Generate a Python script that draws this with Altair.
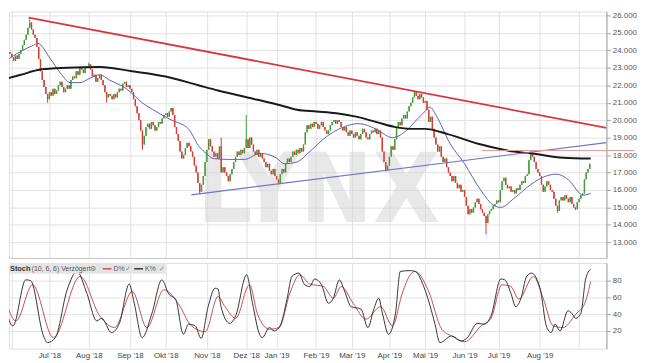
import altair as alt
import pandas as pd

# ---------------- data (prices in thousands, x = trading-day index, 0 = 2 Jul 2018)
first_idx = -22
first_open = 23.9
close_jun18 = [23.8, 23.6, 23.4, 23.7, 23.5, 23.8, 24.0, 24.3, 24.6, 24.9, 25.3, 25.6,
               25.2, 24.9, 24.7, 24.2, 23.5, 22.8, 22.3, 21.9, 21.5, 21.2]
close_jul18 = [21.6, 21.4, 21.8, 21.5, 21.7, 22.0, 22.2, 21.9, 21.6, 21.8, 22.0, 21.8,
               22.3, 22.5, 22.4, 22.8, 22.6, 23.0, 22.9, 22.7, 23.0, 23.1]
close_aug18 = [23.2, 22.9, 22.5, 22.6, 22.2, 22.4, 22.6, 22.3, 22.0, 21.6, 21.3, 21.5,
               21.4, 21.2, 21.5, 21.3, 21.6, 21.8, 21.7, 22.1, 22.2, 21.9, 22.0]
close_sep18 = [21.8, 21.6, 21.2, 20.8, 20.4, 20.0, 19.4, 18.6, 19.1, 19.6, 19.8, 19.5,
               19.9, 19.7, 19.4, 19.6, 19.9, 19.8, 20.1, 20.3]
close_okt18 = [20.4, 20.2, 20.5, 20.7, 20.3, 19.6, 19.2, 18.8, 18.2, 17.8, 18.0, 18.4,
               18.7, 18.5, 18.2, 17.9, 17.4, 17.0, 16.4, 15.9, 16.3, 16.8, 17.6]
close_nov18 = [18.3, 18.9, 18.5, 18.2, 17.9, 18.1, 17.8, 18.5, 17.0, 17.3, 17.0, 16.8,
               16.5, 16.9, 17.2, 17.6, 17.9, 18.2, 18.0, 18.3, 18.1, 18.4]
close_dez18 = [18.9, 18.4, 19.0, 18.6, 18.2, 18.0, 18.3, 17.9, 18.1, 17.8, 17.6, 17.3,
               17.5, 17.1, 16.9, 17.2, 16.8]
close_jan19 = [16.6, 16.4, 16.9, 17.2, 17.0, 17.5, 17.8, 17.6, 17.9, 18.2, 18.0, 18.3,
               18.1, 18.4, 18.2, 18.6, 19.3, 19.7, 19.5, 19.8, 19.6, 19.9]
close_feb19 = [19.8, 19.5, 19.7, 19.9, 19.6, 19.4, 19.2, 19.4, 19.7, 19.9, 20.0, 19.8,
               20.0, 19.9, 19.6, 19.4, 19.6, 19.3, 19.1, 19.4]
close_mar19 = [19.2, 19.0, 19.3, 19.1, 18.9, 19.2, 19.5, 19.3, 19.0, 18.9, 19.2, 19.4,
               19.3, 19.5, 19.2, 19.4, 19.0, 18.2, 17.6, 17.1, 17.4]
close_apr19 = [17.9, 18.5, 18.3, 18.9, 19.6, 19.9, 19.7, 20.1, 20.3, 20.1, 20.5, 20.8,
               21.0, 21.3, 21.6, 21.4, 21.2, 21.5, 21.3, 21.0]
close_mai19 = [21.1, 20.6, 19.9, 20.2, 19.5, 19.0, 18.6, 18.2, 18.5, 17.9, 17.6, 17.8,
               17.3, 17.0, 16.8, 16.5, 16.8, 16.4, 16.1, 16.3, 15.9, 16.0]
close_jun19 = [15.6, 15.1, 14.6, 14.9, 14.7, 15.0, 15.3, 15.5, 15.2, 14.9, 14.7, 14.5,
               14.1, 14.6, 14.8, 14.9, 15.1, 15.2, 15.4]
close_jul19 = [15.3, 16.0, 16.5, 16.7, 16.3, 16.1, 16.2, 15.9, 16.0, 15.8, 16.1, 16.0,
               16.3, 16.5, 16.4, 16.8, 16.9, 17.7, 18.1, 17.9, 17.6, 17.2, 17.0]
close_aug19 = [16.8, 16.3, 15.9, 16.2, 16.5, 16.3, 16.0, 15.9, 15.5, 15.1, 14.8, 15.4,
               15.6, 15.4, 15.7, 15.5, 15.3, 15.6, 15.2, 15.0, 14.9, 15.3]
close_sep19 = [15.5, 15.7, 15.8, 16.6, 17.0, 17.2, 17.5]

wick_high_idx = [-11, 22, 96, 110, 204, 269]
wick_high_val = [25.85, 23.3, 19.0, 20.3, 21.65, 18.25]
wick_low_idx = [-1, 32, 52, 84, 128, 188, 244, 284, 294]
wick_low_val = [21.0, 21.0, 18.3, 15.75, 16.3, 17.05, 13.45, 14.7, 14.85]

# moving averages (blue ~ short, black ~ 200 days)
ma_blue_idx = [-27, -17.6, -8.8, -6.6, 0.6, 6.1, 11.6, 17.1, 22.6, 28.1, 33.6, 43, 51.8,
               59.5, 68.3, 77.7, 83.2, 88.7, 91.5, 99.7, 109.1, 117.9, 127.3, 131.1, 138.3,
               145.5, 154.8, 164.2, 173, 182.4, 191.7, 200.6, 206, 209.9, 212.7, 215.4,
               219, 222.6, 232, 241.3, 248.5, 252.3, 259.5, 268.9, 277.7, 283.2, 290.9,
               296.4, 298.1, 302.5]
ma_blue_val = [23.2, 23.85, 24.3, 24.4, 23.5, 22.7, 22.15, 22.15, 22.4, 22.6, 22.3, 21.8,
               21.0, 20.5, 20.0, 19.5, 18.55, 18.0, 17.8, 17.75, 17.75, 18.1, 17.8, 17.5,
               17.6, 18.2, 19.05, 19.6, 19.8, 19.5, 19.0, 19.5, 20.1, 20.5, 20.75, 20.4,
               19.7, 18.9, 17.5, 15.95, 15.1, 15.0, 15.5, 16.3, 16.8, 16.9, 16.5, 15.8,
               15.7, 15.8]
ma_black_idx = [-27, -16, -5, 9.9, 28.1, 46.3, 65, 83.2, 94.2, 110.7, 127.3, 138.3,
                149.3, 160.3, 171.3, 182.4, 193.4, 201.7, 209.9, 222.6, 241.3, 259.5,
                268.9, 287.1, 302.5]
ma_black_val = [22.3, 22.6, 22.9, 23.0, 23.05, 22.8, 22.5, 22.0, 21.7, 21.3, 20.9, 20.6,
                20.5, 20.4, 20.2, 19.9, 19.6, 19.5, 19.5, 19.2, 18.6, 18.2, 18.1, 17.85,
                17.8]

# trend lines
res_idx = [-11.6, 311.3]
res_val = [25.87, 19.56]
sup_idx = [79.3, 311.3]
sup_val = [15.72, 18.71]
hline_idx = [241.9, 327.0]
hline_val = [18.26, 18.26]

# stochastic (10, 6, 6)
k_idx = [-27, -20.4, -13.2, -10.5, -3.3, -1.1, 3.3, 9.9, 15.4, 20.9, 26.4, 29.2, 34.7,
         39.1, 44.6, 47.4, 51.8, 57.3, 62.8, 66.7, 70.5, 74.9, 77.7, 81.5, 84.8, 88.7,
         92.6, 94.2, 95.9, 100.8, 104.1, 110.2, 113.5, 117.4, 119, 122.9, 125.6, 128.9,
         132.8, 135.5, 139.4, 142.7, 145.5, 148.2, 152.1, 155.9, 158.7, 162, 164.7,
         168.6, 174.1, 178, 181.3, 184, 186.2, 189.5, 193.4, 196.1, 201.7, 204.4, 209.9,
         215.4, 218.2, 224.8, 230.3, 233.6, 239.1, 243, 246.8, 252.3, 254.5, 257.9,
         260.6, 263.4, 266.7, 269.4, 274.4, 277.7, 280.4, 282.6, 285.4, 289.8, 291.5,
         294.2, 297, 299.7, 302.5]
k_val = [75, 26, 81, 80, 14, 6, 12, 69, 91, 65, 32, 35, 18, 29, 76, 53, 12, 41, 81, 64,
         58, 16, 28, 26, 11, 49, 71, 70, 49, 29, 38, 87, 53, 16, 12, 24, 20, 26, 58, 85,
         89, 75, 73, 82, 75, 53, 59, 81, 69, 49, 46, 24, 46, 59, 40, 16, 41, 91, 92, 91,
         69, 29, 6, 14, 8, 12, 29, 28, 38, 82, 81, 65, 49, 58, 85, 89, 69, 26, 18, 28,
         20, 44, 42, 35, 41, 82, 94]
d_idx = [-27, -18.7, -9.4, 2.2, 17.1, 28.1, 36.4, 46.3, 54.5, 63.9, 72.2, 79.3, 87.1,
         94.2, 98.1, 104.1, 111.8, 116.3, 122.9, 128.4, 134.4, 139.9, 145.5, 153.2,
         158.7, 163.1, 169.7, 176.9, 185.1, 191.7, 197.2, 201.7, 204.4, 211.6, 219.3,
         224.8, 232, 241.3, 246.8, 252.9, 257.9, 262.3, 270.5, 276.1, 281.5, 287.1,
         294.2, 299.2, 302.5]
d_val = [78, 32, 75, 12, 85, 38, 24, 67, 24, 69, 52, 26, 19, 61, 49, 35, 75, 40, 22, 24,
         65, 87, 76, 73, 59, 73, 53, 34, 49, 26, 65, 87, 91, 69, 22, 14, 7, 26, 35, 75,
         73, 58, 85, 58, 26, 24, 40, 53, 79]

month_idx = [-21, 0, 22, 45, 65, 88, 110, 127, 149, 169, 190, 210, 232, 251, 274, 296]
month_lbl = ["", "Jul '18", "Aug '18", "Sep '18", "Okt '18", "Nov '18", "Dez '18",
             "Jan '19", "Feb '19", "Mar '19", "Apr '19", "Mai '19", "Jun '19",
             "Jul '19", "Aug '19", ""]
price_ticks = list(range(13, 27))
stoch_ticks = [20, 40, 60, 80]

# ---------------- tables
closes = (close_jun18 + close_jul18 + close_aug18 + close_sep18 + close_okt18 + close_nov18
          + close_dez18 + close_jan19 + close_feb19 + close_mar19 + close_apr19
          + close_mai19 + close_jun19 + close_jul19 + close_aug19 + close_sep19)
idx = list(range(first_idx, first_idx + len(closes)))
opens = [first_open] + closes[:-1]
hi_map = dict(zip(wick_high_idx, wick_high_val))
lo_map = dict(zip(wick_low_idx, wick_low_val))
rows = []
for i, o, c in zip(idx, opens, closes):
    rows.append(dict(idx=i, x0=i - 0.38, x1=i + 0.38, open=o, close=c,
                     low=min(lo_map.get(i, min(o, c)), min(o, c)),
                     high=max(hi_map.get(i, max(o, c)), max(o, c)),
                     dir="up" if c >= o else "down"))
candles = pd.DataFrame(rows)
blue_df = pd.DataFrame({"idx": ma_blue_idx, "v": ma_blue_val})
black_df = pd.DataFrame({"idx": ma_black_idx, "v": ma_black_val})
res_df = pd.DataFrame({"idx": res_idx, "v": res_val})
sup_df = pd.DataFrame({"idx": sup_idx, "v": sup_val})
hl_df = pd.DataFrame({"idx": hline_idx, "v": hline_val})
k_df = pd.DataFrame({"idx": k_idx, "v": k_val})
d_df = pd.DataFrame({"idx": d_idx, "v": d_val})
one = pd.DataFrame({"a": [0]})

# ---------------- styling
FONT = "Liberation Sans"
GRID = "#e2e2e2"
AXC = "#a0a0a0"
W = 606
H_MAIN = 250
H_ST = 87
xscale = alt.Scale(domain=[-22.6, 311.3], nice=False, zero=False)
yscale = alt.Scale(domain=[12.102, 26.226], nice=False, zero=False)
sscale = alt.Scale(domain=[-1.2, 101.2], nice=False, zero=False)
lbl_js = "[" + ",".join('"%s"' % s for s in month_lbl) + "]"
idx_js = "[" + ",".join(str(v) for v in month_idx) + "]"

xa_main = alt.Axis(values=month_idx, grid=True, gridColor=GRID, labels=False, ticks=False,
                   domain=True, domainColor="#c8c8c8", title=None)
ya_main = alt.Axis(orient="right", values=price_ticks, labelExpr="datum.value + '.000'",
                   grid=True, gridColor=GRID, tickSize=4, tickColor=AXC, domainColor=AXC,
                   labelColor="#555", labelFontSize=8, labelFont=FONT, labelPadding=2,
                   title=None)
xa_st = alt.Axis(values=month_idx, grid=True, gridColor=GRID, ticks=False, domain=False,
                 labelExpr=lbl_js + "[indexof(" + idx_js + ", datum.value)]",
                 labelOverlap=False, labelFontSize=8, labelFont=FONT, labelColor="#444",
                 labelPadding=3, title=None)
ya_st = alt.Axis(orient="right", values=stoch_ticks, grid=True, gridColor=GRID,
                 tickSize=4, tickColor=AXC, domainColor=AXC, labelColor="#555",
                 labelFontSize=8, labelFont=FONT, labelPadding=2, title=None)


def mx(field="idx"):
    return alt.X(field + ":Q", scale=xscale, axis=xa_main)


def my(field="v"):
    return alt.Y(field + ":Q", scale=yscale, axis=ya_main)


watermark = alt.Chart(one).mark_text(
    text="LYNX", font="Liberation Sans Narrow, DejaVu Sans Condensed, Liberation Sans",
    fontWeight="bold", fontSize=98, color="#d6d6d6", opacity=0.55, align="center",
    baseline="alphabetic").encode(x=alt.value(314), y=alt.value(214))

cdir = alt.Color("dir:N", scale=alt.Scale(domain=["up", "down"], range=["#3f9a3a", "#d63a30"]),
                 legend=None)
wicks = alt.Chart(candles).mark_rule(strokeWidth=1, clip=True).encode(
    x=mx(), y=my("low"), y2="high", color=cdir)
bodies = alt.Chart(candles).mark_bar(clip=True).encode(
    x=mx("x0"), x2="x1", y=my("open"), y2="close", color=cdir)
blue_line = alt.Chart(blue_df).mark_line(color="#5a63ae", strokeWidth=1,
                                         interpolate="monotone", clip=True).encode(x=mx(), y=my())
black_line = alt.Chart(black_df).mark_line(color="#1a1a1a", strokeWidth=2,
                                           interpolate="monotone", clip=True).encode(x=mx(), y=my())
res_line = alt.Chart(res_df).mark_line(color="#d7373d", strokeWidth=1.8, clip=True).encode(
    x=mx(), y=my())
sup_line = alt.Chart(sup_df).mark_line(color="#7075c8", strokeWidth=1.2, clip=True).encode(
    x=mx(), y=my())
h_line = alt.Chart(hl_df).mark_line(color="#e49a9a", strokeWidth=1).encode(x=mx(), y=my())

main = alt.layer(wicks, watermark, bodies, blue_line, black_line, res_line, sup_line,
                 h_line).properties(width=W, height=H_MAIN)


def sx():
    return alt.X("idx:Q", scale=xscale, axis=xa_st)


def sy():
    return alt.Y("v:Q", scale=sscale, axis=ya_st)


d_line = alt.Chart(d_df).mark_line(color="#c4504a", strokeWidth=1, interpolate="monotone",
                                   clip=True).encode(x=sx(), y=sy())
k_line = alt.Chart(k_df).mark_line(color="#333333", strokeWidth=1, interpolate="monotone",
                                   clip=True).encode(x=sx(), y=sy())
band = alt.Chart(one).mark_rect(color="#e4e4e4").encode(
    x=alt.value(0), x2=alt.value(159), y=alt.value(0), y2=alt.value(11))


def txt(s, x, bold=False, color="#333", size=7):
    return alt.Chart(one).mark_text(text=s, font=FONT, fontSize=size,
                                    fontWeight="bold" if bold else "normal", color=color,
                                    align="left", baseline="middle").encode(
        x=alt.value(x), y=alt.value(6))


def seg(x1, x2, color):
    return alt.Chart(one).mark_rule(color=color, strokeWidth=1.5).encode(
        x=alt.value(x1), x2=alt.value(x2), y=alt.value(6))


legend_items = [band, txt("Stoch", 1, bold=True, size=7.5),
                txt("(10, 6, 6) Verzögert", 23, color="#555"),
                txt("⚙", 82, color="#777"), seg(95, 104, "#c4504a"), txt("D%", 106, color="#555"),
                txt("✓", 118, color="#6b8cc7"), seg(127, 136, "#333333"),
                txt("K%", 138, color="#555"), txt("✓", 152, color="#6b8cc7")]

stoch = alt.layer(d_line, k_line, *legend_items).properties(width=W, height=H_ST)

chart = alt.vconcat(main, stoch, spacing=3).properties(padding=0).configure_view(
    stroke=None).configure(background="white")

chart.save("out.html", embed_options={"renderer": "svg", "actions": False})
